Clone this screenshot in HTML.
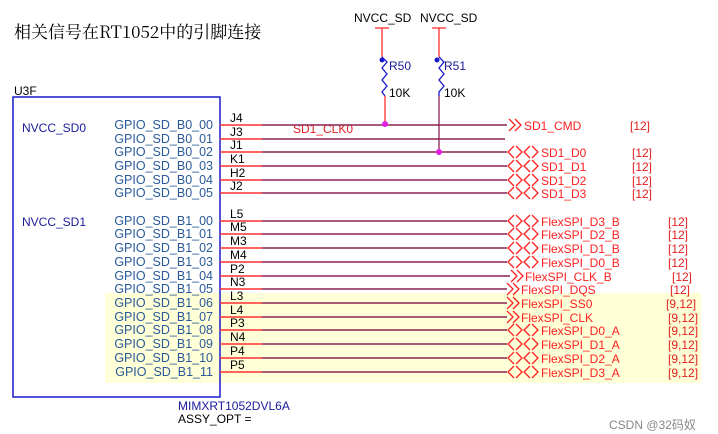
<!DOCTYPE html>
<html><head><meta charset="utf-8"><style>
body{margin:0;background:#fff;}
svg{display:block;font-family:"Liberation Sans",Arial,sans-serif;}
</style></head><body>
<svg width="718" height="434" viewBox="0 0 718 434" xmlns="http://www.w3.org/2000/svg">
<rect x="105" y="293" width="596" height="90" fill="#ffffd8"/>
<text x="14" y="38" font-family="'Noto Serif CJK SC','Liberation Serif',serif" font-size="17" fill="#000">相关信号在RT1052中的引脚连接</text>
<g font-size="12" fill="#000">
<text x="354" y="22">NVCC_SD</text><text x="420" y="22">NVCC_SD</text>
<text x="389" y="70" fill="#1a1a9a">R50</text><text x="444" y="70" fill="#1a1a9a">R51</text>
<text x="389" y="97">10K</text><text x="444" y="97">10K</text>
</g>
<g stroke="#ff3030" stroke-width="1.3" fill="none">
<line x1="375" y1="28" x2="389" y2="28"/><line x1="382" y1="28" x2="382" y2="57"/>
<line x1="432" y1="28" x2="446" y2="28"/><line x1="439" y1="28" x2="439" y2="57"/>
<line x1="385" y1="96" x2="385" y2="124"/>
</g>
<g stroke="#1a1acc" stroke-width="1.3" fill="none">
<polyline points="382,57 387,62 382,68 387,74 382,80 387,86 382,92 385,96"/>
<polyline points="439,57 444,62 439,68 444,74 439,80 444,86 439,92 439,96"/>
</g>
<circle cx="382" cy="60" r="2.5" fill="#1a1acc"/><circle cx="437" cy="60" r="2.5" fill="#1a1acc"/>
<line x1="439" y1="96" x2="439" y2="152" stroke="#8b2252" stroke-width="1.3"/>
<text x="14" y="95" font-size="12">U3F</text>
<rect x="13" y="97" width="207" height="300" fill="none" stroke="#1a1acc" stroke-width="1.5"/>
<text x="22" y="132" font-size="12" fill="#1a1a9a">NVCC_SD0</text>
<text x="22" y="226" font-size="12" fill="#1a1a9a">NVCC_SD1</text>
<text x="178" y="410" font-size="12" fill="#1a1a9a">MIMXRT1052DVL6A</text>
<text x="178" y="423" font-size="12">ASSY_OPT =</text>
<text x="293" y="133" font-size="12" fill="#e02020">SD1_CLK0</text>
<g id="rows" font-size="12"></g>
<circle cx="385" cy="124" r="3" fill="#e020e0"/><circle cx="439" cy="152" r="3" fill="#e020e0"/>
<text x="609" y="429" font-size="12" fill="#888">CSDN @32码奴</text>
</svg>
<script>
var rows=[
["GPIO_SD_B0_00","J4",125,"SD1_CMD","[12]",1,630],
["GPIO_SD_B0_01","J3",139,"","",0,0],
["GPIO_SD_B0_02","J1",152,"SD1_D0","[12]",2,632],
["GPIO_SD_B0_03","K1",166,"SD1_D1","[12]",2,632],
["GPIO_SD_B0_04","H2",180,"SD1_D2","[12]",2,632],
["GPIO_SD_B0_05","J2",193,"SD1_D3","[12]",2,632],
["GPIO_SD_B1_00","L5",221,"FlexSPI_D3_B","[12]",2,668],
["GPIO_SD_B1_01","M5",234,"FlexSPI_D2_B","[12]",2,668],
["GPIO_SD_B1_02","M3",248,"FlexSPI_D1_B","[12]",2,668],
["GPIO_SD_B1_03","M4",262,"FlexSPI_D0_B","[12]",2,668],
["GPIO_SD_B1_04","P2",276,"FlexSPI_CLK_B","[12]",3,672],
["GPIO_SD_B1_05","N3",289,"FlexSPI_DQS","[12]",4,670],
["GPIO_SD_B1_06","L3",303,"FlexSPI_SS0","[9,12]",4,666],
["GPIO_SD_B1_07","L4",317,"FlexSPI_CLK","[9,12]",4,668],
["GPIO_SD_B1_08","P3",330,"FlexSPI_D0_A","[9,12]",2,668],
["GPIO_SD_B1_09","N4",344,"FlexSPI_D1_A","[9,12]",2,668],
["GPIO_SD_B1_10","P4",358,"FlexSPI_D2_A","[9,12]",2,668],
["GPIO_SD_B1_11","P5",372,"FlexSPI_D3_A","[9,12]",2,668]];
var s="";
function chev(x,y,d){return '<polyline points="'+x+','+(y-6)+' '+(x+6*d)+','+y+' '+x+','+(y+6)+'"/>';}
rows.forEach(function(r){var y=r[2];
s+='<text x="213" y="'+(y+4)+'" text-anchor="end" font-size="12.5" fill="#2a5a9a">'+r[0]+'</text>';
s+='<text x="230" y="'+(y-3)+'" fill="#000">'+r[1]+'</text>';
var end=r[5]==0?505:(r[5]==3?510:507);
s+='<line x1="262" y1="'+y+'" x2="'+end+'" y2="'+y+'" stroke="#8b2252" stroke-width="1.4"/>';
s+='<line x1="220" y1="'+y+'" x2="262" y2="'+y+'" stroke="#ff3030" stroke-width="1.4"/>';
s+='<g stroke="#ff2020" stroke-width="1.3" fill="none">';
var tx=0;
if(r[5]==1){s+=chev(509,y,1)+chev(515,y,1);tx=524;}
if(r[5]==2){s+=chev(514,y,-1)+chev(516,y,1)+chev(530,y,-1)+chev(532,y,1);tx=541;}
if(r[5]==3){s+=chev(511,y,1)+chev(517,y,1);tx=525;}
if(r[5]==4){s+=chev(507,y,1)+chev(513,y,1);tx=521;}
s+='</g>';
if(r[3]){s+='<text x="'+tx+'" y="'+(y+5)+'" fill="#ff2020">'+r[3]+'</text>';
s+='<text x="'+r[6]+'" y="'+(y+5)+'" fill="#e02020">'+r[4]+'</text>';}
});
document.getElementById("rows").innerHTML=s;
</script>
</body></html>
